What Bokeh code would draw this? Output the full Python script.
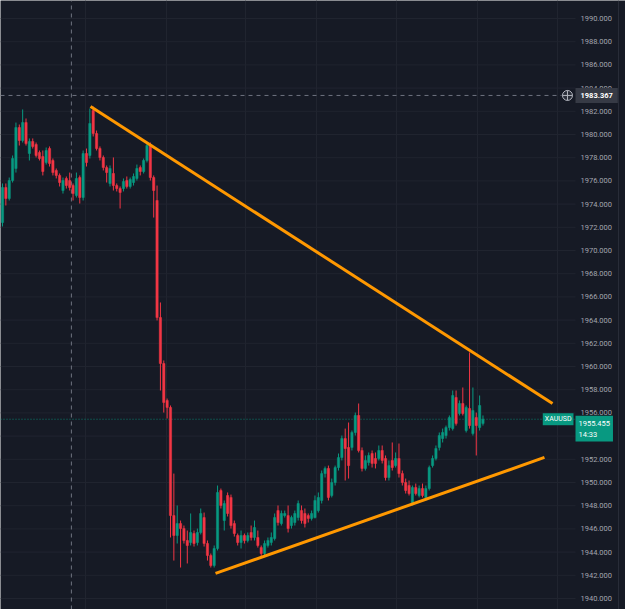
import numpy as np
from bokeh.plotting import figure
from bokeh.models import Range1d, FixedTicker, Label, ColumnDataSource
from bokeh.core.properties import value
from bokeh.embed import file_html
from bokeh.resources import INLINE

# ---------------- data (XAUUSD candles) ----------------
opens = [1972.41, 1975.43, 1974.48, 1976.03, 1977.07, 1980.60, 1979.48, 1981.03, 1978.36, 1979.40,
         1979.14, 1978.45, 1978.10, 1977.59, 1978.79, 1977.76, 1976.90, 1976.47, 1975.17, 1976.21,
         1976.03, 1975.60, 1974.74, 1976.29, 1974.57, 1978.36, 1978.19, 1982.07, 1980.09, 1978.79,
         1978.02, 1977.15, 1975.78, 1976.64, 1975.60, 1975.34, 1975.34, 1976.03, 1975.52, 1975.86,
         1976.21, 1977.15, 1976.81, 1977.76, 1979.05, 1976.29, 1974.31, 1964.22, 1960.26, 1957.07,
         1956.47, 1947.15, 1945.43, 1946.46, 1946.03, 1945.00, 1944.83, 1945.60, 1944.83, 1945.69,
         1946.98, 1944.74, 1943.71, 1942.84, 1944.31, 1949.31, 1946.72, 1948.88, 1948.71, 1946.46,
         1945.43, 1944.83, 1945.43, 1945.00, 1945.69, 1945.26, 1945.26, 1944.39, 1943.88, 1944.57,
         1944.83, 1945.17, 1947.58, 1946.46, 1947.15, 1947.15, 1946.29, 1946.55, 1946.98, 1947.58,
         1947.33, 1947.15, 1946.90, 1946.98, 1947.58, 1948.45, 1950.77, 1951.21, 1948.88, 1950.00,
         1951.29, 1952.15, 1953.79, 1953.02, 1953.02, 1954.31, 1955.78, 1952.76, 1951.21, 1951.72,
         1952.50, 1952.07, 1952.07, 1952.76, 1952.07, 1950.43, 1951.90, 1951.46, 1952.07, 1950.77,
         1950.00, 1949.74, 1948.19, 1949.57, 1948.88, 1949.48, 1948.71, 1949.48, 1951.46, 1952.07,
         1953.02, 1953.79, 1954.05, 1954.74, 1954.65, 1957.33, 1955.95, 1956.81, 1954.48, 1956.38,
         1954.22, 1955.60, 1954.74, 1955.09]
highs = [1975.78, 1975.78, 1976.29, 1978.19, 1981.03, 1980.86, 1982.16, 1981.38, 1979.66, 1979.66,
         1979.31, 1978.62, 1978.62, 1978.88, 1978.97, 1977.93, 1977.07, 1976.64, 1976.29, 1976.38,
         1976.72, 1975.78, 1976.72, 1976.47, 1978.62, 1978.79, 1982.24, 1982.41, 1980.34, 1978.97,
         1978.19, 1977.33, 1977.33, 1978.02, 1975.78, 1975.52, 1976.21, 1976.38, 1976.29, 1976.64,
         1977.41, 1977.33, 1977.93, 1979.22, 1979.31, 1976.47, 1975.60, 1965.52, 1960.52, 1957.24,
         1956.64, 1950.77, 1948.02, 1946.72, 1946.29, 1945.86, 1947.33, 1945.86, 1946.03, 1947.76,
         1947.41, 1945.00, 1943.88, 1944.57, 1949.74, 1949.48, 1948.45, 1949.14, 1948.96, 1946.72,
         1945.60, 1945.86, 1945.60, 1945.69, 1946.29, 1946.72, 1945.86, 1944.57, 1945.00, 1945.26,
         1945.69, 1947.33, 1948.02, 1947.58, 1947.58, 1948.02, 1947.15, 1947.58, 1948.45, 1948.02,
         1947.76, 1947.33, 1947.58, 1948.88, 1949.14, 1951.03, 1951.38, 1951.46, 1950.34, 1951.46,
         1952.50, 1954.05, 1954.65, 1955.17, 1954.48, 1956.03, 1956.81, 1953.02, 1952.33, 1952.59,
         1952.76, 1952.59, 1953.19, 1953.19, 1952.33, 1951.90, 1953.45, 1952.59, 1953.36, 1951.03,
         1950.34, 1950.17, 1949.74, 1949.91, 1949.74, 1949.91, 1949.74, 1951.46, 1952.33, 1953.19,
         1954.31, 1954.65, 1954.91, 1955.78, 1957.93, 1957.93, 1957.07, 1958.19, 1956.64, 1961.21,
         1958.19, 1956.03, 1957.50, 1955.78]
lows = [1972.07, 1973.88, 1974.31, 1975.86, 1976.72, 1979.05, 1979.31, 1979.05, 1977.76, 1978.79,
        1978.02, 1977.76, 1976.47, 1977.41, 1977.24, 1976.47, 1976.21, 1975.52, 1974.91, 1975.34,
        1975.17, 1974.31, 1974.57, 1974.05, 1974.31, 1977.24, 1977.93, 1979.83, 1978.62, 1977.76,
        1976.90, 1975.86, 1975.52, 1975.17, 1975.09, 1973.62, 1975.09, 1975.34, 1975.34, 1975.60,
        1976.03, 1976.47, 1976.64, 1977.59, 1976.03, 1972.84, 1963.97, 1957.93, 1956.03, 1955.52,
        1945.26, 1943.27, 1944.74, 1942.67, 1944.74, 1943.02, 1944.57, 1944.48, 1944.57, 1945.52,
        1944.48, 1943.27, 1942.67, 1942.67, 1944.14, 1947.76, 1945.86, 1947.07, 1946.03, 1945.34,
        1944.57, 1944.31, 1944.74, 1944.83, 1945.00, 1945.00, 1944.39, 1943.53, 1943.62, 1944.39,
        1944.57, 1945.00, 1946.29, 1946.29, 1946.98, 1945.69, 1946.03, 1946.29, 1946.72, 1946.46,
        1946.12, 1946.55, 1946.72, 1946.90, 1947.41, 1948.19, 1950.43, 1948.45, 1948.71, 1949.74,
        1951.03, 1951.90, 1950.17, 1950.34, 1952.76, 1954.05, 1952.59, 1950.95, 1951.03, 1951.46,
        1951.29, 1951.21, 1951.90, 1951.64, 1950.17, 1950.17, 1951.03, 1951.29, 1950.43, 1949.74,
        1949.05, 1948.88, 1948.02, 1948.88, 1948.71, 1948.71, 1948.45, 1949.31, 1951.29, 1951.90,
        1952.76, 1953.45, 1953.79, 1954.48, 1954.48, 1954.91, 1955.78, 1955.78, 1954.31, 1954.65,
        1954.05, 1952.33, 1954.48, 1954.91]
closes = [1975.43, 1974.48, 1976.03, 1977.93, 1980.60, 1979.48, 1981.03, 1979.22, 1979.40, 1978.97,
          1978.19, 1977.93, 1976.81, 1978.62, 1977.50, 1976.72, 1976.47, 1975.86, 1976.03, 1975.60,
          1975.43, 1974.91, 1976.21, 1974.57, 1978.36, 1977.59, 1980.95, 1980.09, 1978.79, 1978.02,
          1977.15, 1976.72, 1977.07, 1975.60, 1975.34, 1975.00, 1975.95, 1975.52, 1976.12, 1976.38,
          1977.07, 1976.81, 1977.76, 1979.05, 1976.29, 1975.17, 1964.22, 1960.26, 1956.90, 1956.47,
          1947.15, 1945.43, 1946.46, 1946.03, 1945.00, 1944.57, 1945.69, 1944.74, 1945.69, 1947.33,
          1944.74, 1943.71, 1942.84, 1944.31, 1949.14, 1948.02, 1948.19, 1947.33, 1946.29, 1945.60,
          1944.83, 1945.43, 1945.00, 1945.43, 1945.26, 1946.12, 1944.57, 1943.88, 1944.74, 1945.00,
          1945.26, 1946.98, 1946.55, 1947.33, 1947.33, 1946.03, 1946.98, 1947.33, 1948.19, 1946.72,
          1946.46, 1946.90, 1947.33, 1948.45, 1948.71, 1950.77, 1951.21, 1948.71, 1950.00, 1951.29,
          1952.15, 1953.79, 1952.93, 1951.46, 1954.31, 1955.78, 1952.76, 1951.21, 1951.90, 1952.33,
          1951.64, 1951.64, 1952.76, 1951.90, 1950.43, 1951.46, 1951.29, 1952.07, 1950.77, 1950.00,
          1949.31, 1949.05, 1949.57, 1949.05, 1949.48, 1948.88, 1949.48, 1951.29, 1952.07, 1952.93,
          1954.05, 1954.31, 1954.74, 1955.60, 1957.50, 1955.09, 1956.81, 1955.95, 1956.47, 1954.91,
          1956.21, 1954.91, 1956.64, 1955.455]

# trend lines drawn on the chart (bar index, price)
upper_trend_x = [26.2, 163.7]
upper_trend_y = [1982.41, 1956.81]
lower_trend_x = [63.4, 161.3]
lower_trend_y = [1942.16, 1952.16]

price_ticks = list(range(1940, 1992, 2))
time_grid = [24.7, 48.8, 72.3, 93.5, 117.3, 141.4, 165.2]
crosshair_x = 20.5
crosshair_price = 1983.367
last_price = 1955.455
countdown = "14:33"
symbol = "XAUUSD"

# ---------------- styling ----------------
BG = "#161a25"
GRID = "#20242f"
UP = "#089981"
DOWN = "#f23645"
ORANGE = "#ff9800"
AXIS_TXT = "#a3a6af"
FONT = "Roboto"

W, H = 625, 609
X0, X1 = -0.595, 185.42      # whole canvas, in bar units
AX = 170.54                   # left edge of the price scale
SEP = 183.33                  # pane separator
Y0, Y1 = 1939.052, 1991.552

p = figure(width=W, height=H, x_range=Range1d(X0, X1), y_range=Range1d(Y0, Y1),
           output_backend="svg", toolbar_location=None,
           min_border_left=0, min_border_top=0, min_border_bottom=0, min_border_right=0)
p.background_fill_color = BG
p.border_fill_color = BG
p.outline_line_color = None
p.xaxis.visible = False
p.yaxis.visible = False
p.ygrid.visible = False
p.xgrid.ticker = FixedTicker(ticks=time_grid)
p.xgrid.grid_line_color = GRID

# horizontal grid, limited to the chart pane
p.segment(x0=[X0] * len(price_ticks), y0=price_ticks, x1=[AX] * len(price_ticks), y1=price_ticks,
          line_color=GRID, line_width=1)
# pane separator
p.segment(x0=[SEP], y0=[Y0], x1=[SEP], y1=[Y1], line_color="#2a2e39", line_width=1)

o = np.array(opens); c = np.array(closes); h = np.array(highs); l = np.array(lows)
idx = np.arange(len(o))
colors = [UP if cc >= oo else DOWN for oo, cc in zip(o, c)]
src = ColumnDataSource(dict(x=idx, o=o, c=c, h=h, l=l,
                            top=np.maximum(o, c), bottom=np.minimum(o, c), color=colors))

# crosshair & price line (under candles)
p.segment(x0=[crosshair_x], y0=[Y0], x1=[crosshair_x], y1=[Y1], line_color="#6f7380",
          line_dash="4 4", line_width=1)
p.line([X0, 166.4], [crosshair_price, crosshair_price], line_color="#6f7380",
       line_dash="4 4", line_width=1)
p.line([X0, AX], [last_price, last_price], line_color=UP, line_dash="1 2",
       line_width=1, line_alpha=0.8)

p.segment("x", "h", "x", "l", source=src, color="color", line_width=1)
p.vbar(x="x", width=0.68, top="top", bottom="bottom", source=src,
       fill_color="color", line_color="color", line_width=0.5)

p.line(upper_trend_x, upper_trend_y, line_color=ORANGE, line_width=3)
p.line(lower_trend_x, lower_trend_y, line_color=ORANGE, line_width=3)

# price scale labels
p.text(x=[AX] * len(price_ticks), y=price_ticks, text=[f"{t:.3f}" for t in price_ticks],
       x_offset=5, text_align="left", text_baseline="middle",
       text_font=value(FONT), text_font_size="7.5px", text_color=AXIS_TXT)

# crosshair "+" icon and price label
p.scatter([168.15], [crosshair_price], marker="circle_cross", size=10,
          fill_color="#2a2e39", line_color="#b2b5be", line_width=1)
p.add_layout(Label(x=AX, y=crosshair_price, text=f"{crosshair_price:.3f}",
                   text_font=FONT, text_font_size="7.5px", text_font_style="bold",
                   text_color="#ffffff", text_align="left", text_baseline="middle",
                   background_fill_color="#363a45", padding=5))

# symbol + last price labels
p.add_layout(Label(x=AX - 0.6, y=last_price, text=symbol,
                   text_font=FONT, text_font_size="7px", text_color="#ffffff",
                   text_align="right", text_baseline="middle",
                   background_fill_color=UP, padding=2))
p.add_layout(Label(x=AX, y=last_price + 0.3, text=f"{last_price:.3f}\n{countdown}",
                   text_font=FONT, text_font_size="7.5px", text_color="#ffffff",
                   text_align="left", text_baseline="top",
                   background_fill_color=UP, padding=3))

open("out.html", "w").write(file_html(p, INLINE))
